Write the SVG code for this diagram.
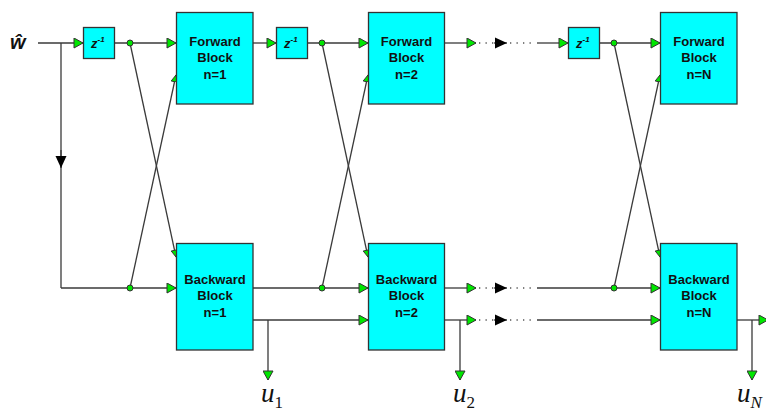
<svg xmlns="http://www.w3.org/2000/svg" width="766" height="415" viewBox="0 0 766 415">
<style>
.blk{fill:#00ffff;stroke:#333;stroke-width:1.3}
.ln{fill:none;stroke:#3a3a3a;stroke-width:1.3}
.dl{fill:none;stroke:#555;stroke-width:1.3;stroke-dasharray:1.3 5.2}
.ah{marker-end:url(#ga)}
.as{marker-end:url(#gs)}
.dot{fill:#00e600;stroke:#333;stroke-width:1}
.bt{font-family:"Liberation Sans",Arial,sans-serif;font-weight:bold;font-size:13px;fill:#111;text-anchor:middle}
.zt{font-family:"Liberation Sans",Arial,sans-serif;font-weight:bold;font-style:italic;font-size:13px;fill:#111}
.ut{font-family:"Liberation Serif","Times New Roman",serif;font-style:italic;font-size:27px;fill:#111}
.us{font-family:"Liberation Serif","Times New Roman",serif;font-size:17px;fill:#111}
</style>
<defs>
<marker id="ga" markerUnits="userSpaceOnUse" markerWidth="11" markerHeight="11" viewBox="-0.5 -0.5 10 11" refX="9" refY="5" orient="auto"><path d="M0,0 L9,5 L0,10 Z" fill="#00e600" stroke="#333" stroke-width="1"/></marker>
<marker id="gs" markerUnits="userSpaceOnUse" markerWidth="8" markerHeight="8" viewBox="-0.5 -0.5 7 7" refX="6" refY="3" orient="auto"><path d="M0,0 L6,3 L0,6 Z" fill="#00e600" stroke="#333" stroke-width="0.8"/></marker>
<marker id="ka" markerUnits="userSpaceOnUse" markerWidth="13" markerHeight="12" viewBox="0 0 13 12" refX="12" refY="6" orient="auto"><path d="M0,0.5 L12,6 L0,11.5 Z" fill="#000"/></marker>
</defs>

<g id="input-label">
<text x="10" y="49" style="font-family:'Liberation Sans',Arial,sans-serif;font-weight:bold;font-style:italic;font-size:20px;fill:#111">ŵ</text>
</g>

<g id="connectors">
<path class="ln ah" d="M38,43 H83"/>
<path class="ln ah" d="M114.5,43 H176"/>
<path class="ln ah" d="M253,43 H276"/>
<path class="ln ah" d="M307,43 H368"/>
<path class="ln ah" d="M444,43 H476"/>
<path class="dl" d="M479,43 H495"/>
<path class="dl" d="M510,43 H536"/>
<path class="ln" d="M494,43 H507" marker-end="url(#ka)"/>
<path class="ln ah" d="M537,43 H568"/>
<path class="ln ah" d="M599,43 H660"/>
<path class="ln" d="M61,43 V288"/>
<path class="ln" d="M61,150 V168" marker-end="url(#ka)"/>
<path class="ln ah" d="M61,288 H176"/>
<path class="ln as" d="M130,43 L176,257"/>
<path class="ln as" d="M130,288 L176,75"/>
<path class="ln as" d="M322,43 L368,257"/>
<path class="ln as" d="M322,288 L368,75"/>
<path class="ln as" d="M614,43 L660,257"/>
<path class="ln as" d="M614,288 L660,75"/>
<path class="ln ah" d="M253,288 H368"/>
<path class="ln ah" d="M253,320 H368"/>
<path class="ln ah" d="M268,320 V380"/>
<path class="ln ah" d="M444,288 H476"/>
<path class="ln ah" d="M444,320 H476"/>
<path class="ln ah" d="M460,320 V380"/>
<path class="dl" d="M479,288 H495"/>
<path class="dl" d="M510,288 H536"/>
<path class="dl" d="M479,320 H495"/>
<path class="dl" d="M510,320 H536"/>
<path class="ln" d="M494,288 H507" marker-end="url(#ka)"/>
<path class="ln" d="M494,320 H507" marker-end="url(#ka)"/>
<path class="ln ah" d="M537,288 H660"/>
<path class="ln ah" d="M537,320 H660"/>
<path class="ln ah" d="M737,320 H768"/>
<path class="ln ah" d="M752,320 V380"/>
<circle class="dot" cx="130" cy="43" r="3"/>
<circle class="dot" cx="322" cy="43" r="3"/>
<circle class="dot" cx="614" cy="43" r="3"/>
<circle class="dot" cx="130" cy="288" r="3"/>
<circle class="dot" cx="322" cy="288" r="3"/>
<circle class="dot" cx="614" cy="288" r="3"/>
</g>

<g id="delay1"><rect class="blk" x="83.5" y="27.5" width="31" height="31"/><text class="zt" x="91" y="48">z<tspan font-size="8" dy="-6">-1</tspan></text></g>
<g id="delay2"><rect class="blk" x="276.5" y="27.5" width="31" height="31"/><text class="zt" x="284" y="48">z<tspan font-size="8" dy="-6">-1</tspan></text></g>
<g id="delay3"><rect class="blk" x="568.5" y="27.5" width="31" height="31"/><text class="zt" x="576" y="48">z<tspan font-size="8" dy="-6">-1</tspan></text></g>

<g id="forward1"><rect class="blk" x="176.5" y="12.5" width="76.5" height="91.5"/><text class="bt" x="215" y="46">Forward</text><text class="bt" x="215" y="62">Block</text><text class="bt" x="215" y="79">n=1</text></g>
<g id="forward2"><rect class="blk" x="368.5" y="12.5" width="76" height="91.5"/><text class="bt" x="406.5" y="46">Forward</text><text class="bt" x="406.5" y="62">Block</text><text class="bt" x="406.5" y="79">n=2</text></g>
<g id="forwardN"><rect class="blk" x="660.5" y="12.5" width="76.5" height="91.5"/><text class="bt" x="699" y="46">Forward</text><text class="bt" x="699" y="62">Block</text><text class="bt" x="699" y="79">n=N</text></g>

<g id="backward1"><rect class="blk" x="176.5" y="243.5" width="76.5" height="106.5"/><text class="bt" x="215" y="284">Backward</text><text class="bt" x="215" y="300">Block</text><text class="bt" x="215" y="317">n=1</text></g>
<g id="backward2"><rect class="blk" x="368.5" y="243.5" width="76" height="106.5"/><text class="bt" x="406.5" y="284">Backward</text><text class="bt" x="406.5" y="300">Block</text><text class="bt" x="406.5" y="317">n=2</text></g>
<g id="backwardN"><rect class="blk" x="660.5" y="243.5" width="76.5" height="106.5"/><text class="bt" x="699" y="284">Backward</text><text class="bt" x="699" y="300">Block</text><text class="bt" x="699" y="317">n=N</text></g>

<g id="out1"><text class="ut" x="261" y="402">u<tspan class="us" dy="6" font-style="normal">1</tspan></text></g>
<g id="out2"><text class="ut" x="453" y="402">u<tspan class="us" dy="6" font-style="normal">2</tspan></text></g>
<g id="outN"><text class="ut" x="737" y="402">u<tspan class="us" dy="6" font-style="italic" font-size="14">N</tspan></text></g>
</svg>
